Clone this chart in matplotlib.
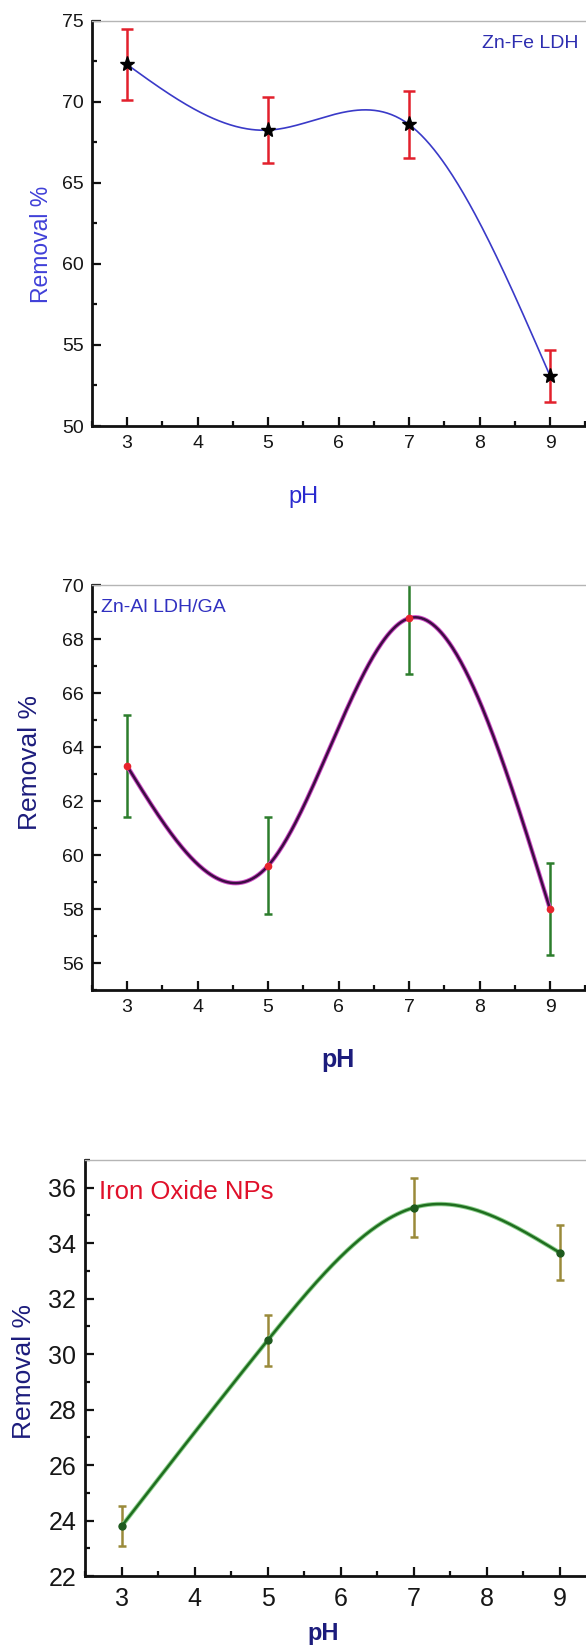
import numpy as np
import matplotlib
matplotlib.use("Agg")
import matplotlib.pyplot as plt
from matplotlib.ticker import MultipleLocator

plt.rcParams['font.family'] = ['Liberation Sans', 'DejaVu Sans']

ph = [3, 5, 7, 9]

# Zn-Fe LDH
znfe_removal = [72.3, 68.25, 68.6, 53.1]
znfe_err = [2.2, 2.05, 2.05, 1.6]

# Zn-Al LDH/GA
znal_removal = [63.3, 59.6, 68.77, 58.0]
znal_err = [1.9, 1.8, 2.05, 1.7]

# Iron oxide NPs
iron_removal = [23.8, 30.5, 35.28, 33.66]
iron_err = [0.73, 0.92, 1.06, 1.0]

W, H = 586, 1651


def natural_spline(x, y, xs):
    x = np.asarray(x, float)
    y = np.asarray(y, float)
    n = len(x)
    h = np.diff(x)
    A = np.zeros((n, n))
    b = np.zeros(n)
    A[0, 0] = A[-1, -1] = 1
    for i in range(1, n - 1):
        A[i, i - 1] = h[i - 1]
        A[i, i] = 2 * (h[i - 1] + h[i])
        A[i, i + 1] = h[i]
        b[i] = 6 * ((y[i + 1] - y[i]) / h[i] - (y[i] - y[i - 1]) / h[i - 1])
    M = np.linalg.solve(A, b)
    idx = np.clip(np.searchsorted(x, xs) - 1, 0, n - 2)
    x0, x1 = x[idx], x[idx + 1]
    hh = x1 - x0
    a = (x1 - xs) / hh
    c = (xs - x0) / hh
    return (a * y[idx] + c * y[idx + 1]
            + ((a ** 3 - a) * M[idx] + (c ** 3 - c) * M[idx + 1]) * hh ** 2 / 6)


def px_axes(left, right, top, bottom):
    return [left / W, 1 - bottom / H, (right - left) / W, (bottom - top) / H]


def style_axes(ax, ylim, ymaj, ymin, fs, ypad, xpad):
    ax.set_xlim(2.5, 9.5)
    ax.set_ylim(*ylim)
    ax.xaxis.set_major_locator(MultipleLocator(1))
    ax.xaxis.set_minor_locator(MultipleLocator(0.5))
    ax.yaxis.set_major_locator(MultipleLocator(ymaj))
    ax.yaxis.set_minor_locator(MultipleLocator(ymin))
    for s in ['left', 'bottom']:
        ax.spines[s].set_linewidth(2)
        ax.spines[s].set_color('#111111')
    ax.spines['top'].set_color('#b5b5b5')
    ax.spines['top'].set_linewidth(1)
    ax.spines['right'].set_visible(False)
    ax.tick_params(which='both', direction='in', top=False, right=False,
                   width=1.6, color='#111111')
    ax.tick_params(which='major', length=6.5, labelsize=fs, labelcolor='#161616')
    ax.tick_params(which='minor', length=3.5)
    ax.tick_params(axis='y', pad=ypad)
    ax.tick_params(axis='x', pad=xpad)


fig = plt.figure(figsize=(W / 100, H / 100), dpi=100)
xs = np.linspace(3, 9, 300)

# ---- panel 1: Zn-Fe LDH
ax1 = fig.add_axes(px_axes(91.75, 585.25, 20.7, 426))
style_axes(ax1, (50, 75), 5, 2.5, 14, 5.5, 6.5)
ax1.errorbar(ph, znfe_removal, yerr=znfe_err, fmt='none', ecolor='#e2202c',
             elinewidth=1.8, capsize=4, capthick=1.8, zorder=2)
ax1.plot(xs, natural_spline(ph, znfe_removal, xs), color='#3a3ac8', lw=1.2, zorder=3)
ax1.plot(ph, znfe_removal, ls='none', marker='*', ms=11, color='black', zorder=4)
ax1.text(482 / W, 1 - 43 / H, 'Zn-Fe LDH', transform=fig.transFigure,
         color='#2e2eb0', fontsize=14, va='center', ha='left')
fig.text(41 / W, 1 - 244 / H, 'Removal %', rotation=90, ha='center', va='center',
         color='#4040d8', fontsize=16.5)
fig.text(303 / W, 1 - 497 / H, 'pH', ha='center', va='center',
         color='#2a2acf', fontsize=17)

# ---- panel 2: Zn-Al LDH/GA
ax2 = fig.add_axes(px_axes(91.75, 585.25, 585, 990))
style_axes(ax2, (55, 70), 2, 1, 14, 5.5, 6.5)
ax2.errorbar(ph, znal_removal, yerr=znal_err, fmt='none', ecolor='#2c7d2c',
             elinewidth=1.8, capsize=3, capthick=1.8, zorder=2)
curve2 = natural_spline(ph, znal_removal, xs)
ax2.plot(xs, curve2, color='#d050c8', lw=3.2, zorder=3)
ax2.plot(xs, curve2, color='#3e0c44', lw=1.8, zorder=3)
ax2.plot(ph, znal_removal, ls='none', marker='o', ms=4.5, color='#e8242c', zorder=4)
ax2.text(101 / W, 1 - 607 / H, 'Zn-Al LDH/GA', transform=fig.transFigure,
         color='#3030c0', fontsize=14, va='center', ha='left')
fig.text(30 / W, 1 - 762 / H, 'Removal %', rotation=90, ha='center', va='center',
         color='#1c1c7c', fontsize=19)
fig.text(338 / W, 1 - 1060 / H, 'pH', ha='center', va='center',
         color='#1c1c7c', fontsize=18, fontweight='bold')

# ---- panel 3: Iron Oxide NPs
ax3 = fig.add_axes(px_axes(85.2, 596.2, 1160, 1576))
style_axes(ax3, (22, 37), 2, 1, 18, 6.5, 8)
ax3.errorbar(ph, iron_removal, yerr=iron_err, fmt='none', ecolor='#9a8a3a',
             elinewidth=1.8, capsize=3, capthick=1.8, zorder=2)
curve3 = natural_spline(ph, iron_removal, xs)
ax3.plot(xs, curve3, color='#8fd08f', lw=3.2, zorder=3)
ax3.plot(xs, curve3, color='#1f6e1f', lw=1.8, zorder=3)
ax3.plot(ph, iron_removal, ls='none', marker='o', ms=5, color='#1e5a1e', zorder=4)
ax3.text(99 / W, 1 - 1192 / H, 'Iron Oxide NPs', transform=fig.transFigure,
         color='#e0102a', fontsize=18.5, va='center', ha='left')
fig.text(24 / W, 1 - 1371 / H, 'Removal %', rotation=90, ha='center', va='center',
         color='#1c1c7c', fontsize=19)
fig.text(323 / W, 1 - 1633 / H, 'pH', ha='center', va='center',
         color='#1c1c7c', fontsize=17, fontweight='bold')

fig.savefig('out.png', dpi=100)
